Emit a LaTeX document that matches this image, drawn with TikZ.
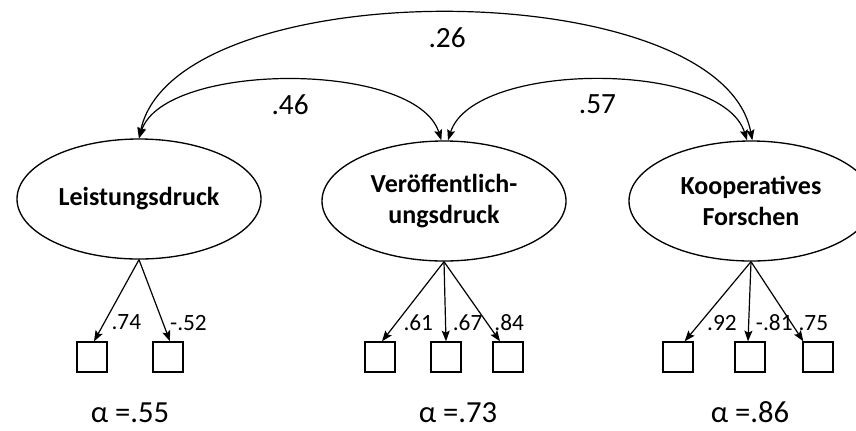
\documentclass[tikz,border=0pt]{standalone}
\usepackage{fontspec}
\setmainfont{Carlito}
\usetikzlibrary{shapes.geometric, arrows.meta, positioning, calc}

\begin{document}
\begin{tikzpicture}[
    x=0.75pt, y=-0.75pt,
    latent/.style={ellipse, draw, line width=1pt, minimum width=183pt, minimum height=90pt,
        inner sep=0pt, align=center, font=\fontsize{19.5}{23.5}\selectfont\bfseries},
    item/.style={rectangle, draw, line width=1.5pt, minimum size=22pt, inner sep=0pt},
    load/.style={-{Stealth[length=8pt, width=6pt, inset=1.5pt]}, line width=0.9pt},
    corr/.style={{Stealth[length=8pt, width=6pt, inset=1.5pt]}-{Stealth[length=8pt, width=6pt, inset=1.5pt]},
        line width=0.9pt},
    lbl/.style={font=\fontsize{17.5}{20}\selectfont, inner sep=1pt, xshift=4pt},
    clbl/.style={font=\fontsize{22}{26}\selectfont, inner sep=0pt},
    rel/.style={font=\fontsize{23}{27}\selectfont, anchor=base, inner sep=0pt}
]
    \useasboundingbox (0,0) rectangle (856,430);

    % latent factors
    \node[latent] (lei) at (139,199) {Leistungsdruck};
    \node[latent] (ver) at (444,201) {Veröffentlich-\\ungsdruck};
    \node[latent] (koo) at (751,201) {Kooperatives\\Forschen};

    % indicators
    \foreach \n/\x in {lei1/92, lei2/168, ver1/380, ver2/446, ver3/508, koo1/678, koo2/750, koo3/818}
        \node[item] (\n) at (\x,357) {};

    % loadings
    \foreach \f/\i/\s/\v in {lei/lei1/1.5pt/.74, lei/lei2/1.5pt/-.52,
            ver/ver1/1.5pt/.61, ver/ver2/0pt/.67, ver/ver3/-6pt/.84,
            koo/koo1/5pt/.92, koo/koo2/-1.5pt/-.81, koo/koo3/-11pt/.75}
        \draw[load] (\f.south) -- ([xshift=\s]\i.north) node[pos=0.77, anchor=west, lbl] {\v};

    % correlations
    \draw[corr] (lei.north) .. controls +(36,-168) and +(-32,-168) .. ([xshift=1pt]koo.north)
        node[midway, below=10pt, clbl] {.26};
    \draw[corr] (lei.north) .. controls +(25,-77) and +(-25,-80) .. ([xshift=-2pt]ver.north)
        node[midway, below=10pt, clbl] {.46};
    \draw[corr] ([xshift=3pt]ver.north) .. controls +(25,-80) and +(-25,-80) .. ([xshift=-3pt]koo.north)
        node[midway, below=10pt, clbl] {.57};

    % reliabilities
    \node[rel] (alei) at (130,422) {α =.55};
    \node[rel] (aver) at (458,422) {α =.73};
    \node[rel] (akoo) at (750,422) {α =.86};
\end{tikzpicture}
\end{document}
